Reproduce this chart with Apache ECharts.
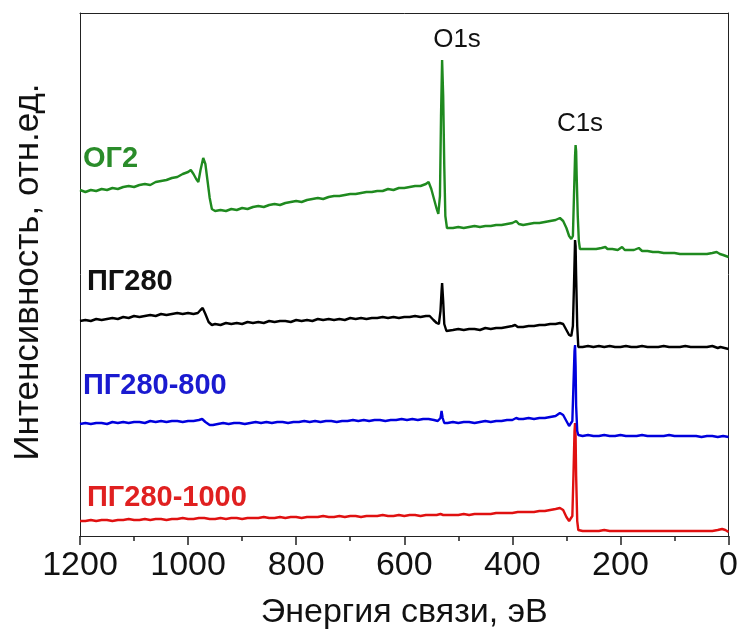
<!DOCTYPE html>
<html><head><meta charset="utf-8">
<script src="https://cdn.jsdelivr.net/npm/echarts@6/dist/echarts.min.js"></script>
<style>html,body{margin:0;padding:0;background:#fff}#c{width:741px;height:636px}</style>
</head><body><div id="c"></div>
<script>
// Energy (eV) ticks
const xTicks = [1200, 1000, 800, 600, 400, 200, 0];
const seriesNames = ['ОГ2', 'ПГ280', 'ПГ280-800', 'ПГ280-1000'];
const peakNames = ['O1s', 'C1s'];

// [binding energy eV, intensity a.u.]
const og2 = [[1200,346],[1190,344],[1180,346],[1170,345],[1160,347],[1150,346],[1140,348],[1130,347],[1120,349],[1110,350],[1100,349],[1090,351],[1080,352],[1070,351],[1060,354],[1050,355],[1040,356],[1030,358],[1020,359],[1010,362],[1000,364],[995,366],[990,362],[985,357],[981,354],[977,366],[972,378],[968,372],[964,355],[960,338],[956,327],[950,325],[940,326],[930,325],[920,327],[910,326],[900,328],[890,327],[880,329],[870,330],[860,329],[850,331],[840,332],[830,331],[820,333],[810,334],[800,335],[790,334],[780,336],[770,337],[760,338],[750,337],[740,339],[730,340],[720,340],[710,341],[700,342],[690,342],[680,343],[670,344],[660,344],[650,345],[640,345],[630,347],[620,346],[610,348],[600,348],[590,349],[580,350],[570,350],[560,352],[555,354],[550,347],[545,337],[540,327],[537,322],[534,340],[532,420],[530,476],[528,440],[526,370],[524,320],[521,308],[510,308],[500,309],[490,308],[480,309],[470,310],[460,309],[450,310],[440,310],[430,311],[420,311],[410,312],[400,313],[393,315],[388,312],[380,311],[370,312],[360,313],[350,313],[340,314],[330,315],[320,316],[312,318],[306,315],[300,308],[295,300],[291,297],[288,300],[286,340],[284,380],[283,391],[282,385],[281,360],[279,320],[277,295],[275,287],[265,287],[255,287],[245,287],[235,288],[228,289],[224,287],[215,287],[205,286],[197,289],[192,286],[185,286],[175,286],[166,288],[160,285],[150,285],[140,284],[130,284],[120,283],[110,283],[100,283],[90,282],[80,282],[70,282],[60,282],[50,282],[40,282],[30,283],[22,284],[16,282],[10,281],[0,279]];

const pg280 = [[1200,215],[1190,216],[1180,215],[1170,217],[1160,216],[1150,217],[1140,218],[1130,217],[1120,219],[1110,218],[1100,220],[1090,219],[1080,220],[1070,221],[1060,220],[1050,222],[1040,221],[1030,222],[1020,223],[1010,222],[1000,223],[990,222],[982,223],[977,226],[973,228],[968,222],[962,214],[956,211],[950,212],[940,211],[930,213],[920,212],[910,213],[900,212],[890,214],[880,213],[870,214],[860,213],[850,215],[840,214],[830,215],[820,215],[810,214],[800,216],[790,215],[780,216],[770,215],[760,217],[750,216],[740,217],[730,216],[720,217],[710,216],[700,218],[690,217],[680,218],[670,217],[660,218],[650,218],[640,219],[630,218],[620,219],[610,218],[600,219],[590,219],[580,220],[570,219],[560,220],[553,220],[546,216],[540,213],[536,212],[533,225],[531,245],[530,253],[528,235],[526,212],[522,205],[510,206],[500,207],[490,206],[480,207],[470,207],[460,206],[450,208],[440,207],[430,208],[420,208],[410,209],[400,210],[395,211],[390,209],[380,209],[370,210],[360,210],[350,211],[340,211],[330,212],[320,212],[312,213],[306,212],[300,206],[295,201],[291,200],[288,210],[286,250],[284,296],[283,290],[282,260],[280,210],[278,189],[270,189],[260,190],[250,189],[240,190],[230,189],[220,190],[210,189],[200,189],[190,190],[180,189],[170,189],[160,190],[150,189],[140,189],[130,189],[120,190],[110,189],[100,189],[90,189],[80,190],[70,189],[60,189],[50,189],[40,189],[30,190],[20,188],[15,189],[0,187]];

const pg280_800 = [[1200,112],[1190,113],[1180,112],[1170,113],[1160,113],[1150,112],[1140,114],[1130,113],[1120,114],[1110,113],[1100,114],[1090,114],[1080,113],[1070,115],[1060,114],[1050,115],[1040,114],[1030,115],[1020,115],[1010,114],[1000,115],[990,115],[980,116],[974,117],[968,114],[960,111],[954,111],[945,112],[935,113],[925,112],[915,113],[905,113],[895,112],[885,113],[875,114],[865,113],[855,114],[845,113],[835,114],[825,114],[815,113],[805,114],[795,114],[785,115],[775,114],[765,115],[755,114],[745,115],[735,115],[725,114],[715,115],[705,115],[695,116],[685,115],[675,116],[665,115],[655,116],[645,116],[635,115],[625,116],[615,116],[605,117],[595,116],[585,117],[575,116],[565,117],[555,117],[545,116],[538,115],[533,118],[531,125],[529,118],[526,113],[520,113],[510,114],[500,113],[490,114],[480,114],[470,113],[460,114],[450,115],[440,114],[430,115],[420,115],[410,116],[400,116],[393,118],[388,117],[380,117],[370,118],[360,117],[350,118],[340,118],[330,119],[320,120],[312,123],[306,121],[300,115],[295,110],[292,109],[289,115],[287,150],[285,185],[284,191],[283,170],[282,130],[280,105],[278,101],[270,100],[260,101],[250,100],[240,100],[230,101],[220,100],[210,100],[200,101],[190,100],[180,100],[170,100],[160,101],[150,100],[140,100],[130,100],[120,100],[110,101],[100,100],[90,100],[80,100],[70,100],[60,100],[50,99],[40,100],[30,100],[20,99],[10,100],[0,99]];

const pg280_1000 = [[1200,15],[1190,15],[1180,16],[1170,15],[1160,16],[1150,16],[1140,15],[1130,16],[1120,16],[1110,17],[1100,16],[1090,16],[1080,17],[1070,16],[1060,17],[1050,17],[1040,16],[1030,17],[1020,17],[1010,18],[1000,17],[990,17],[980,18],[970,18],[960,17],[950,17],[940,18],[930,17],[920,18],[910,18],[900,17],[890,18],[880,18],[870,18],[860,19],[850,18],[840,18],[830,19],[820,18],[810,19],[800,19],[790,18],[780,19],[770,19],[760,19],[750,20],[740,19],[730,19],[720,20],[710,19],[700,20],[690,20],[680,19],[670,20],[660,20],[650,20],[640,21],[630,20],[620,20],[610,21],[600,20],[590,21],[580,21],[570,20],[560,21],[550,21],[540,21],[533,22],[531,24],[528,21],[520,21],[510,21],[500,21],[490,22],[480,21],[470,22],[460,22],[450,22],[440,22],[430,23],[420,23],[410,23],[400,23],[390,24],[380,24],[370,24],[360,24],[350,25],[340,25],[330,26],[320,27],[312,28],[306,26],[300,19],[295,15],[292,14],[289,20],[287,60],[285,105],[284,113],[283,100],[282,60],[280,15],[278,6],[270,5],[260,5],[250,5],[240,5],[230,6],[220,5],[210,5],[200,5],[190,5],[180,5],[170,5],[160,5],[150,5],[140,5],[130,5],[120,5],[110,5],[100,5],[90,5],[80,5],[70,5],[60,5],[50,5],[40,5],[30,5],[20,6],[12,7],[6,6],[0,4]];

const colors = ['#1f8a1f', '#000000', '#0000dd', '#e01010'];
const labelColors = ['#2a8c2a', '#111111', '#1a1ad0', '#e02020'];
const datasets = [og2, pg280, pg280_800, pg280_1000];
const font = '"Liberation Sans", Arial, sans-serif';
const frameLine = {show: true, onZero: false, lineStyle: {color: '#222', width: 1}};

const chart = echarts.init(document.getElementById('c'), null, {renderer: 'canvas'});
chart.setOption({
  animation: false,
  backgroundColor: '#fff',
  grid: {left: 80, right: 12, top: 13, bottom: 100},
  xAxis: [{
    type: 'value', inverse: true, min: 0, max: 1200, interval: 200, position: 'bottom',
    axisLine: frameLine,
    axisTick: {show: true, inside: false, length: 9, lineStyle: {color: '#222', width: 1.5}},
    minorTick: {show: true, splitNumber: 2, length: 5, lineStyle: {color: '#222', width: 1.5}},
    splitLine: {show: false},
    axisLabel: {fontFamily: font, fontSize: 34, color: '#111', margin: 13,
      formatter: v => xTicks.includes(v) ? String(v) : ''},
    name: 'Энергия связи, эВ', nameLocation: 'middle', nameGap: 60,
    nameTextStyle: {fontFamily: font, fontSize: 34, color: '#111'}
  }, {
    type: 'value', inverse: true, min: 0, max: 1200, position: 'top',
    axisLine: frameLine, axisTick: {show: false}, axisLabel: {show: false}, splitLine: {show: false}
  }],
  yAxis: [{
    type: 'value', min: 0, max: 523, position: 'left',
    axisLine: frameLine, axisTick: {show: false}, axisLabel: {show: false}, splitLine: {show: false}
  }, {
    type: 'value', min: 0, max: 523, position: 'right',
    axisLine: frameLine, axisTick: {show: false}, axisLabel: {show: false}, splitLine: {show: false}
  }],
  series: datasets.map((d, i) => ({
    type: 'line', name: seriesNames[i], data: d, showSymbol: false, symbol: 'none',
    lineStyle: {color: colors[i], width: 2.4}, z: 10 - i
  })),
  graphic: [
    {type: 'text', x: 28, y: 272, rotation: Math.PI / 2,
      style: {text: 'Интенсивность, отн.ед.', fontFamily: font, fontSize: 35, fill: '#111', align: 'center', verticalAlign: 'middle'}},
    {type: 'text', x: 83, y: 159, style: {text: seriesNames[0], fontFamily: font, fontSize: 29, fontWeight: 'bold', fill: labelColors[0], verticalAlign: 'middle'}},
    {type: 'text', x: 87, y: 282, style: {text: seriesNames[1], fontFamily: font, fontSize: 29, fontWeight: 'bold', fill: labelColors[1], verticalAlign: 'middle'}},
    {type: 'text', x: 83, y: 386, style: {text: seriesNames[2], fontFamily: font, fontSize: 29, fontWeight: 'bold', fill: labelColors[2], verticalAlign: 'middle'}},
    {type: 'text', x: 87, y: 498, style: {text: seriesNames[3], fontFamily: font, fontSize: 29, fontWeight: 'bold', fill: labelColors[3], verticalAlign: 'middle'}},
    {type: 'text', x: 457, y: 40, style: {text: peakNames[0], fontFamily: font, fontSize: 26, fill: '#111', align: 'center', verticalAlign: 'middle'}},
    {type: 'text', x: 580, y: 124, style: {text: peakNames[1], fontFamily: font, fontSize: 26, fill: '#111', align: 'center', verticalAlign: 'middle'}}
  ]
});
</script></body></html>
